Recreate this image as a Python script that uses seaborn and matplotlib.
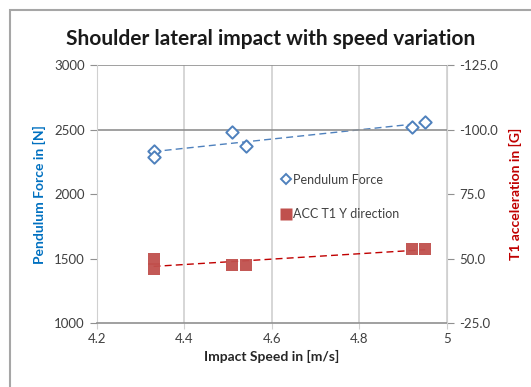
import numpy as np
import pandas as pd
import matplotlib
matplotlib.use("Agg")
import matplotlib.pyplot as plt
import seaborn as sns
from matplotlib.lines import Line2D
from matplotlib.patches import Rectangle

# Values
speed_force = [4.33, 4.33, 4.51, 4.54, 4.92, 4.95]
pendulum_force = [2330, 2290, 2478, 2375, 2522, 2556]

speed_acc = [4.33, 4.33, 4.51, 4.54, 4.92, 4.95]
acc_t1_y = [-50.0, -46.0, -47.5, -47.5, -53.8, -53.8]

x_ticks = [4.2, 4.4, 4.6, 4.8, 5.0]
x_labels = ["4.2", "4.4", "4.6", "4.8", "5"]
left_ticks = [1000, 1500, 2000, 2500, 3000]
right_ticks = [-125, -100, -75, -50, -25]
right_labels = ["-125.0", "-100.0", "75.0", "50.0", "-25.0"]

blue = "#4F81BD"
red = "#C0504D"

df_force = pd.DataFrame({"speed": speed_force, "force": pendulum_force})
df_acc = pd.DataFrame({"speed": speed_acc, "acc": acc_t1_y})

sns.set_style("white")
plt.rcParams["font.family"] = ["Lato", "DejaVu Sans"]

fig = plt.figure(figsize=(5.31, 3.87), dpi=100)
ax = fig.add_axes([0.182, 0.165, 0.660, 0.667])
ax2 = ax.twinx()

# left axis: pendulum force
sns.regplot(data=df_force, x="speed", y="force", ax=ax, scatter=False, ci=None,
            color=blue, line_kws={"linestyle": (0, (5, 3)), "linewidth": 1.0})
sns.scatterplot(data=df_force, x="speed", y="force", ax=ax, marker="D", s=40,
                facecolor="white", edgecolor=blue, linewidth=1.4, zorder=5)

# right axis: acceleration (inverted)
sns.regplot(data=df_acc, x="speed", y="acc", ax=ax2, scatter=False, ci=None,
            color="#C00000", line_kws={"linestyle": (0, (5, 3)), "linewidth": 1.0})
sns.scatterplot(data=df_acc, x="speed", y="acc", ax=ax2, marker="s", s=75,
                color=red, edgecolor="none", alpha=0.95, zorder=5)

ax.set_xlim(4.2, 5.0)
ax.set_ylim(1000, 3000)
ax2.set_ylim(-25, -125)

ax.set_xticks(x_ticks)
ax.set_xticklabels(x_labels)
ax.set_yticks(left_ticks)
ax2.set_yticks(right_ticks)
ax2.set_yticklabels(right_labels)

ax.grid(axis="x", color="#D0D0D0", linewidth=1.2)
ax.axhline(3000, color="#909090", linewidth=1.2)
ax.axhline(2500, color="#909090", linewidth=1.2)

for a in (ax, ax2):
    for s in a.spines.values():
        s.set_visible(False)
ax.spines["bottom"].set_visible(True)
ax.spines["bottom"].set_color("#909090")
ax.spines["bottom"].set_linewidth(1.2)
ax.spines["left"].set_visible(True)
ax.spines["left"].set_color("#D0D0D0")
ax2.spines["right"].set_visible(True)
ax2.spines["right"].set_color("#D0D0D0")

ax.tick_params(axis="y", left=True, length=5, color="#909090", labelsize=9.5,
               labelcolor="#404040")
ax.tick_params(axis="x", bottom=True, length=4, color="#D0D0D0", labelsize=9.5,
               labelcolor="#404040", pad=3)
ax2.tick_params(axis="y", right=True, length=5, color="#909090", labelsize=9.5,
                labelcolor="#404040")

ax.set_xlabel("Impact Speed in [m/s]", fontsize=10, fontweight="bold", color="#262626")
ax.set_ylabel("Pendulum Force in [N]", fontsize=10, fontweight="bold", color="#0070C0",
              labelpad=6)
ax2.set_ylabel("T1 acceleration in [G]", fontsize=10, fontweight="bold", color="#C00000",
               labelpad=8)

fig.suptitle("Shoulder lateral impact with speed variation", x=0.51, y=0.925,
             fontsize=15, fontweight="bold", color="#1a1a1a")

handles = [
    Line2D([], [], marker="D", linestyle="none", markersize=5.5, markerfacecolor="white",
           markeredgecolor=blue, markeredgewidth=1.4, label="Pendulum Force"),
    Line2D([], [], marker="s", linestyle="none", markersize=9, markerfacecolor=red,
           markeredgecolor="none", label="ACC T1 Y direction"),
]
fig.legend(handles=handles, loc="upper left", bbox_to_anchor=(0.505, 0.58),
           frameon=False, fontsize=9, labelspacing=1.8, handletextpad=0.1,
           handlelength=1.0, labelcolor="#404040")

# outer chart border
fig.patches.append(Rectangle((0.019, -0.02), 1.0, 0.993, transform=fig.transFigure,
                             fill=False, edgecolor="#A6A6A6", linewidth=1.5))

fig.savefig("out.png", dpi=100)
